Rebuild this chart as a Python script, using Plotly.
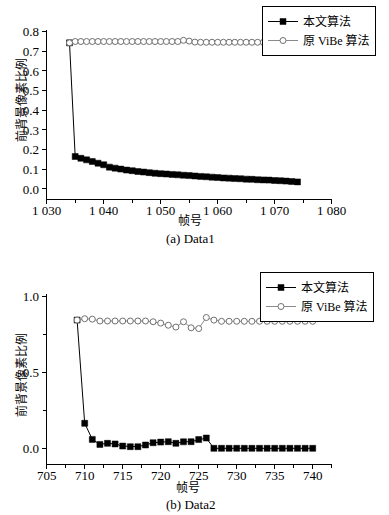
import plotly.graph_objects as go

# ---------------- data ----------------
frames_a = [1034, 1035, 1036, 1037, 1038, 1039, 1040, 1041, 1042, 1043,
            1044, 1045, 1046, 1047, 1048, 1049, 1050, 1051, 1052, 1053,
            1054, 1055, 1056, 1057, 1058, 1059, 1060, 1061, 1062, 1063,
            1064, 1065, 1066, 1067, 1068, 1069, 1070, 1071, 1072, 1073, 1074]
ours_a = [0.743, 0.165, 0.156, 0.148, 0.140, 0.131, 0.123, 0.111, 0.106, 0.101,
          0.096, 0.093, 0.089, 0.086, 0.083, 0.080, 0.078, 0.076, 0.074, 0.072,
          0.070, 0.068, 0.066, 0.064, 0.062, 0.060, 0.058, 0.056, 0.055, 0.053,
          0.052, 0.050, 0.049, 0.047, 0.046, 0.045, 0.043, 0.042, 0.040, 0.038, 0.036]
vibe_a = [0.743, 0.750, 0.750, 0.750, 0.750, 0.750, 0.750, 0.750, 0.750, 0.750,
          0.750, 0.750, 0.750, 0.750, 0.750, 0.750, 0.750, 0.750, 0.750, 0.750,
          0.756, 0.752, 0.747, 0.746, 0.746, 0.746, 0.746, 0.746, 0.746, 0.746,
          0.746, 0.746, 0.746, 0.746, 0.746, 0.746, 0.746, 0.746, 0.746, 0.746, 0.746]

frames_b = [709, 710, 711, 712, 713, 714, 715, 716, 717, 718, 719, 720, 721, 722,
            723, 724, 725, 726, 727, 728, 729, 730, 731, 732, 733, 734, 735, 736,
            737, 738, 739, 740]
ours_b = [0.846, 0.165, 0.059, 0.026, 0.033, 0.029, 0.015, 0.011, 0.011, 0.022,
          0.037, 0.041, 0.044, 0.033, 0.043, 0.044, 0.058, 0.068, 0.0, 0.0,
          0.0, 0.0, 0.0, 0.0, 0.0, 0.0, 0.0, 0.0, 0.0, 0.0, 0.0, 0.0]
vibe_b = [0.846, 0.855, 0.852, 0.840, 0.840, 0.840, 0.840, 0.840, 0.840, 0.840,
          0.835, 0.826, 0.812, 0.800, 0.835, 0.795, 0.790, 0.863, 0.846, 0.838,
          0.838, 0.838, 0.838, 0.838, 0.838, 0.838, 0.838, 0.838, 0.838, 0.838,
          0.838, 0.838]

series_names = ["本文算法", "原 ViBe 算法"]
y_title = "前背景像素比例"
x_title = "帧号"
captions = ["(a) Data1", "(b) Data2"]

xa_ticks = [1030, 1040, 1050, 1060, 1070, 1080]
xa_labels = ["1 030", "1 040", "1 050", "1 060", "1 070", "1 080"]
ya_ticks = [0.0, 0.1, 0.2, 0.3, 0.4, 0.5, 0.6, 0.7, 0.8]
xb_ticks = [705, 710, 715, 720, 725, 730, 735, 740]
yb_ticks = [0.0, 0.5, 1.0]

# ---------------- figure ----------------
W, H = 389, 515
FONT = '"Liberation Serif", "Noto Sans CJK SC", serif'

def px_x(v):
    return v / W

def px_y(v):
    return 1 - v / H

fig = go.Figure()

ours_style = dict(mode="lines+markers",
                  line=dict(color="black", width=1),
                  marker=dict(symbol="square", size=6, color="black",
                              line=dict(color="black", width=0.5)))
vibe_style = dict(mode="lines+markers",
                  line=dict(color="#8a8a8a", width=1),
                  marker=dict(symbol="circle", size=6, color="white",
                              line=dict(color="#707070", width=1)))

fig.add_trace(go.Scatter(x=frames_a, y=ours_a, name=series_names[0],
                         xaxis="x", yaxis="y", legend="legend", **ours_style))
fig.add_trace(go.Scatter(x=frames_a, y=vibe_a, name=series_names[1],
                         xaxis="x", yaxis="y", legend="legend", **vibe_style))
fig.add_trace(go.Scatter(x=frames_b, y=ours_b, name=series_names[0],
                         xaxis="x2", yaxis="y2", legend="legend2", **ours_style))
fig.add_trace(go.Scatter(x=frames_b, y=vibe_b, name=series_names[1],
                         xaxis="x2", yaxis="y2", legend="legend2", **vibe_style))

axis_common = dict(showline=True, linecolor="black", linewidth=1,
                   ticks="outside", ticklen=4, tickwidth=1, tickcolor="black",
                   showgrid=False, zeroline=False, mirror=False, automargin=False,
                   tickfont=dict(family=FONT, size=13, color="black"))

xdom = [px_x(46.7), px_x(331.7)]

fig.update_layout(
    width=W, height=H,
    margin=dict(l=0, r=0, t=0, b=0, autoexpand=False),
    paper_bgcolor="white", plot_bgcolor="white",
    font=dict(family=FONT, color="black"),
    xaxis=dict(domain=xdom, anchor="y", range=[1030, 1080],
               tickmode="array", tickvals=xa_ticks, ticktext=xa_labels,
               ticklabelstandoff=-4,
               minor=dict(tick0=1035, dtick=10, ticks="outside", ticklen=3,
                          tickcolor="black", showgrid=False),
               **axis_common),
    yaxis=dict(domain=[px_y(198.8), px_y(29.7)], anchor="x", range=[-0.05, 0.81],
               tickmode="array", tickvals=ya_ticks, tickformat=".1f",
               **axis_common),
    xaxis2=dict(domain=xdom, anchor="y2", range=[705, 742.5],
                tickmode="array", tickvals=xb_ticks,
                ticklabelstandoff=-4,
                minor=dict(tick0=707.5, dtick=5, ticks="outside", ticklen=3,
                           tickcolor="black", showgrid=False),
                **axis_common),
    yaxis2=dict(domain=[px_y(463.5), px_y(293.7)], anchor="x2", range=[-0.1, 1.02],
                tickmode="array", tickvals=yb_ticks, tickformat=".1f",
                minor=dict(tick0=0.25, dtick=0.5, ticks="outside", ticklen=3,
                           tickcolor="black", showgrid=False),
                **axis_common),
    legend=dict(x=px_x(262), y=px_y(6), xanchor="left", yanchor="top",
                bgcolor="white", bordercolor="black", borderwidth=1,
                font=dict(family=FONT, size=12, color="black"),
                itemwidth=30, tracegroupgap=0),
    legend2=dict(x=px_x(260), y=px_y(272), xanchor="left", yanchor="top",
                 bgcolor="white", bordercolor="black", borderwidth=1,
                 font=dict(family=FONT, size=12, color="black"),
                 itemwidth=30, tracegroupgap=0),
    showlegend=True,
)

ann_font_cjk = dict(family=FONT, size=12, color="black")
ann_font_cap = dict(family=FONT, size=13, color="black")
annotations = [
    dict(text=y_title, x=px_x(21), y=px_y(100), textangle=-90, font=ann_font_cjk),
    dict(text=y_title, x=px_x(21), y=px_y(375), textangle=-90, font=ann_font_cjk),
    dict(text=x_title, x=px_x(190), y=px_y(221), font=ann_font_cjk),
    dict(text=captions[0], x=px_x(190), y=px_y(238), font=ann_font_cap),
    dict(text=x_title, x=px_x(188), y=px_y(488), font=ann_font_cjk),
    dict(text=captions[1], x=px_x(190), y=px_y(504), font=ann_font_cap),
]
for a in annotations:
    a.update(xref="paper", yref="paper", showarrow=False,
             xanchor="center", yanchor="middle")
fig.update_layout(annotations=annotations)

fig.write_html("out.html",
               config={"displayModeBar": False},
               post_script="document.body.style.margin='0';"
                           "document.body.style.overflow='hidden';")
